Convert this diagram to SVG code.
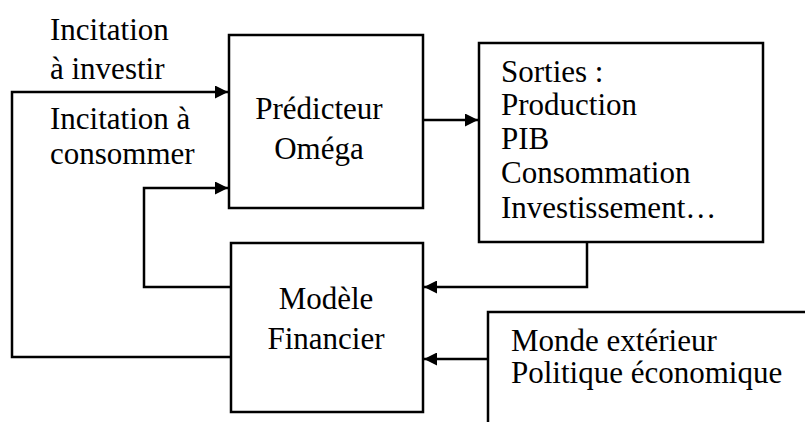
<svg xmlns="http://www.w3.org/2000/svg" width="805" height="422" viewBox="0 0 805 422">
<style>
.box{fill:#fff;stroke:#000;stroke-width:2.5}
.t{font-family:"Liberation Serif","DejaVu Serif",serif;font-size:31px;fill:#000}
.c{fill:none;stroke:#000;stroke-width:2.5}
</style>
<defs>
<marker id="ah" viewBox="0 0 10 10" refX="10" refY="5" markerWidth="6" markerHeight="5.2" markerUnits="strokeWidth" orient="auto">
<path d="M0,0 L10,5 L0,10 z" fill="#000"/>
</marker>
</defs>
<rect width="805" height="422" fill="#fff"/>
<g id="labels">
<text class="t" x="50" y="40">Incitation</text>
<text class="t" x="50" y="79">à investir</text>
<text class="t" x="50" y="129">Incitation à</text>
<text class="t" x="50" y="164">consommer</text>
</g>
<g id="predicteur">
<rect class="box" x="229" y="35" width="194" height="173"/>
<text class="t" x="319" y="119" text-anchor="middle">Prédicteur</text>
<text class="t" x="319" y="159" text-anchor="middle">Oméga</text>
</g>
<g id="sorties">
<rect class="box" x="479" y="43" width="284" height="199"/>
<text class="t" x="501" y="82">Sorties :</text>
<text class="t" x="501" y="115">Production</text>
<text class="t" x="501" y="149">PIB</text>
<text class="t" x="501" y="183">Consommation</text>
<text class="t" x="501" y="218">Investissement…</text>
</g>
<g id="modele">
<rect class="box" x="231" y="243" width="192" height="169"/>
<text class="t" x="326" y="309" text-anchor="middle">Modèle</text>
<text class="t" x="326" y="349" text-anchor="middle">Financier</text>
</g>
<g id="monde">
<path class="c" d="M488,430 L488,312 L810,312"/>
<text class="t" x="511" y="351">Monde extérieur</text>
<text class="t" x="511" y="383">Politique économique</text>
</g>
<g id="connectors">
<path class="c" d="M231,357 L12,357 L12,92 L228,92" marker-end="url(#ah)"/>
<path class="c" d="M231,287 L144,287 L144,188 L228,188" marker-end="url(#ah)"/>
<path class="c" d="M423,120 L478,120" marker-end="url(#ah)"/>
<path class="c" d="M587,242 L587,287 L424,287" marker-end="url(#ah)"/>
<path class="c" d="M488,359 L424,359" marker-end="url(#ah)"/>
</g>
</svg>
